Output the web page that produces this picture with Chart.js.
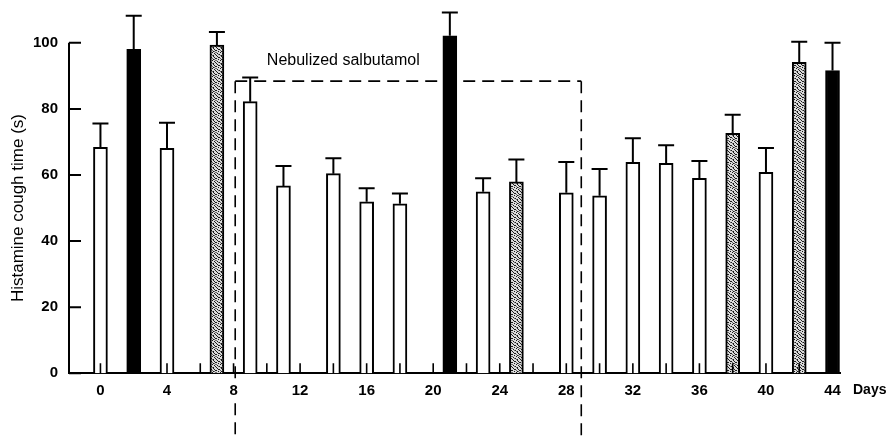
<!DOCTYPE html>
<html><head><meta charset="utf-8">
<script src="https://cdn.jsdelivr.net/npm/chart.js@4.4.1/dist/chart.umd.min.js"></script>
<style>html,body{margin:0;padding:0;background:#fff}#wrap{width:886px;height:438px;position:relative}</style>
</head><body><div id="wrap"><canvas id="c" width="886" height="438"></canvas></div>
<script>
// ---- data ----
const days = [0, 2, 4, 7, 9, 11, 14, 16, 18, 21, 23, 25, 28, 30, 32, 34, 36, 38, 40, 42, 44];
const coughTime = [68.4, 98.0, 68.1, 99.3, 82.2, 56.7, 60.4, 51.9, 51.3, 102.1, 54.9, 57.9, 54.6, 53.7, 63.8, 63.5, 59.0, 72.6, 60.8, 94.1, 91.6];
const errorUp = [7.2, 10.2, 7.7, 4.0, 7.3, 6.0, 4.7, 4.1, 3.1, 7.1, 4.1, 6.8, 9.3, 8.1, 7.3, 5.5, 5.2, 5.6, 7.4, 6.2, 8.4];
const barKind = ['open', 'solid', 'open', 'dotted', 'open', 'open', 'open', 'open', 'open', 'solid', 'open', 'dotted', 'open', 'open', 'open', 'open', 'open', 'dotted', 'open', 'dotted', 'solid'];
const xTickLabels = [0, 4, 8, 12, 16, 20, 24, 28, 32, 36, 40, 44];
const xMinorTicks = [0, 2, 4, 6, 8, 10, 12, 14, 16, 18, 20, 22, 24, 26, 28, 30, 32, 34, 36, 38, 40, 42, 44];
const yTickLabels = [0, 20, 40, 60, 80, 100];
const salbutamolPeriod = [8.1, 28.9];   // days
const salbutamolBoxTop = 88.4;          // s
const salbutamolLabel = 'Nebulized salbutamol';
const salbutamolLabelPos = [10.0, 94.5]; // day, s
const yTitle = 'Histamine cough time (s)';
const xTitle = 'Days';

// ---- stipple pattern ----
function makeStipple() {
  const c = document.createElement('canvas');
  c.width = 8; c.height = 8;
  const g = c.getContext('2d');
  g.fillStyle = '#dadada'; g.fillRect(0, 0, 8, 8);
  g.fillStyle = '#1a1a1a';
  [[1,0],[5,0],[3,1],[7,2],[0,2],[2,3],[5,3],[6,5],[1,5],[4,4],[3,6],[7,6],[0,7],[5,7],[6,1],[2,1]].forEach(p => g.fillRect(p[0], p[1], 1, 1));
  g.fillStyle = '#6a6a6a';
  [[4,2],[7,4],[2,6],[0,4],[4,7],[6,3]].forEach(p => g.fillRect(p[0], p[1], 1, 1));
  return g.createPattern(c, 'repeat');
}
const ctx = document.getElementById('c').getContext('2d');
const stipple = makeStipple();
const FONT = "'Liberation Sans', Arial, sans-serif";

const decor = {
  id: 'decor',
  beforeDatasetsDraw(chart) {
    const { ctx, scales: { x, y } } = chart;
    ctx.save();
    ctx.strokeStyle = '#000';
    ctx.lineWidth = 1.6;
    ctx.setLineDash([12, 7]);
    const xl = x.getPixelForValue(salbutamolPeriod[0]);
    const xr = x.getPixelForValue(salbutamolPeriod[1]);
    const yt = y.getPixelForValue(salbutamolBoxTop);
    const by = y.getPixelForValue(0);
    // horizontal top + vertical sides
    ctx.beginPath();
    ctx.moveTo(xl, yt); ctx.lineTo(xr, yt);
    ctx.stroke();
    [xl, xr].forEach(px => {
      const hitsLabel = xTickLabels.some(v => Math.abs(x.getPixelForValue(v) - px) < 6);
      ctx.beginPath();
      if (hitsLabel) {
        ctx.moveTo(px, yt); ctx.lineTo(px, by + 6);
        ctx.moveTo(px, by + 30); ctx.lineTo(px, chart.height);
      } else {
        ctx.moveTo(px, yt); ctx.lineTo(px, chart.height);
      }
      ctx.stroke();
    });
    ctx.setLineDash([]);
    ctx.fillStyle = '#000';
    ctx.font = '16px ' + FONT;
    ctx.textAlign = 'left';
    ctx.textBaseline = 'middle';
    ctx.fillText(salbutamolLabel, x.getPixelForValue(salbutamolLabelPos[0]), y.getPixelForValue(salbutamolLabelPos[1]));
    ctx.restore();
  },
  afterDatasetsDraw(chart) {
    const { ctx, scales: { x, y }, chartArea } = chart;
    ctx.save();
    ctx.strokeStyle = '#000';
    ctx.fillStyle = '#000';
    // error bars
    ctx.lineWidth = 2;
    days.forEach((d, i) => {
      const px = x.getPixelForValue(d);
      const yb = y.getPixelForValue(coughTime[i]);
      const yt = y.getPixelForValue(coughTime[i] + errorUp[i]);
      ctx.beginPath();
      ctx.moveTo(px, yb); ctx.lineTo(px, yt);
      ctx.moveTo(px - 8, yt); ctx.lineTo(px + 8, yt);
      ctx.stroke();
    });
    // y axis line (0..100) with inward ticks
    const ax = chartArea.left;
    ctx.lineWidth = 2;
    ctx.beginPath();
    ctx.moveTo(ax, y.getPixelForValue(yTickLabels[0]));
    ctx.lineTo(ax, y.getPixelForValue(yTickLabels[yTickLabels.length - 1]));
    yTickLabels.forEach(v => {
      const py = y.getPixelForValue(v);
      ctx.moveTo(ax, py); ctx.lineTo(ax + 12, py);
    });
    ctx.stroke();
    // x inward minor ticks
    ctx.lineWidth = 1.6;
    ctx.beginPath();
    const by = y.getPixelForValue(0);
    xMinorTicks.forEach(d => {
      const px = x.getPixelForValue(d);
      ctx.moveTo(px, by); ctx.lineTo(px, by - 10);
    });
    ctx.stroke();
    // y title
    ctx.font = '17px ' + FONT;
    ctx.textAlign = 'center';
    ctx.textBaseline = 'middle';
    ctx.translate(18, (y.getPixelForValue(0) + y.getPixelForValue(100)) / 2);
    ctx.rotate(-Math.PI / 2);
    ctx.fillText(yTitle, 0, 0);
    ctx.restore();
    // Days label
    ctx.save();
    ctx.fillStyle = '#000';
    ctx.font = 'bold 14px ' + FONT;
    ctx.textAlign = 'left';
    ctx.textBaseline = 'middle';
    ctx.fillText(xTitle, 853, 390);
    ctx.restore();
  }
};

new Chart(ctx, {
  type: 'bar',
  data: {
    datasets: [{
      data: days.map((d, i) => ({ x: d, y: coughTime[i] })),
      backgroundColor: barKind.map(k => k === 'solid' ? '#000' : (k === 'dotted' ? stipple : '#fff')),
      borderColor: '#000',
      borderWidth: 2,
      barThickness: 14
    }]
  },
  options: {
    responsive: false,
    animation: false,
    devicePixelRatio: 1,
    layout: { padding: { top: 0, right: 46, left: 0, bottom: 0 } },
    plugins: { legend: { display: false }, tooltip: { enabled: false } },
    scales: {
      x: {
        type: 'linear',
        min: -1.89, max: 44.45,
        offset: false,
        grid: { display: false, drawTicks: false },
        border: { display: true, color: '#000', width: 2 },
        ticks: { color: '#000', font: { family: FONT, size: 15, weight: 'bold' }, padding: 9, maxRotation: 0, autoSkip: false },
        afterBuildTicks: s => { s.ticks = xTickLabels.map(v => ({ value: v })); },
        afterFit: s => { s.height = 64.7; }
      },
      y: {
        min: 0, max: 106.9,
        grid: { display: false, drawTicks: false },
        border: { display: false },
        ticks: { color: '#000', font: { family: FONT, size: 15, weight: 'bold' }, padding: 11 },
        afterBuildTicks: s => { s.ticks = yTickLabels.map(v => ({ value: v })); },
        afterFit: s => { s.width = 69; }
      }
    }
  },
  plugins: [decor]
});
</script></body></html>
